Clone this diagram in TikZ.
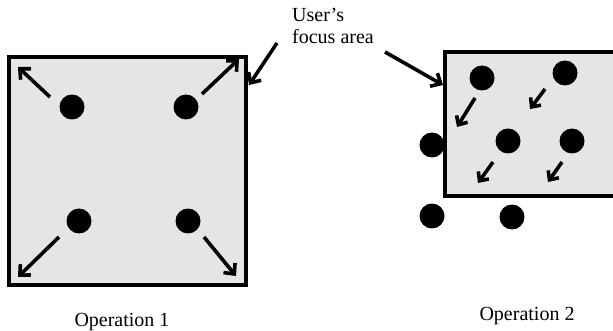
\documentclass[tikz,border=0pt]{standalone}
\usepackage{fontspec}
\setmainfont{Liberation Serif}
\usetikzlibrary{arrows.meta}
\begin{document}
\begin{tikzpicture}[x=1pt,y=-1pt,
  dot/.style={circle,fill=black,inner sep=0pt,minimum size=25pt},
  arr/.style={line width=3.6pt,-{Straight Barb[length=8pt,width=15pt,line width=3.6pt]}},
  sarr/.style={line width=3.6pt,-{Straight Barb[length=7pt,width=13pt,line width=3.6pt]}},
  box/.style={line width=3.8pt,draw=black,fill=black!10},
  lbl/.style={font=\fontsize{20}{22}\selectfont,inner sep=0pt}]
\useasboundingbox (0,0) rectangle (613,331);
% left box
\node[box,rectangle,minimum width=237pt,minimum height=228pt,inner sep=0pt] (lbox) at (127.5,171) {};
% right box (cut by the picture edge)
\fill[black!10] (445,52) rectangle (613,196);
\draw[line width=3.8pt] (614,52) -- (445,52) -- (445,196) -- (614,196);
\coordinate (rboxl) at (443,85);
% dots left
\node[dot] (d1) at (72,107) {};
\node[dot] (d2) at (186,107) {};
\node[dot] (d3) at (79,221) {};
\node[dot] (d4) at (188,221) {};
% arrows left
\coordinate (s1) at (50,97);   \coordinate (e1) at (18,67);
\coordinate (s2) at (202,94);  \coordinate (e2) at (239,59);
\coordinate (s3) at (59,237);  \coordinate (e3) at (18,277);
\coordinate (s4) at (204,237); \coordinate (e4) at (236,276);
\draw[arr] (s1) -- (e1);
\draw[arr] (s2) -- (e2);
\draw[arr] (s3) -- (e3);
\draw[arr] (s4) -- (e4);
% dots right
\node[dot] (r1) at (482,78) {};
\node[dot] (r2) at (565,73) {};
\node[dot] (r3) at (432,145) {};
\node[dot] (r4) at (508,141) {};
\node[dot] (r5) at (572,141) {};
\node[dot] (r6) at (432,216) {};
\node[dot] (r7) at (512,217) {};
% small arrows right
\coordinate (t1) at (475,98);  \coordinate (u1) at (457,127);
\coordinate (t2) at (545,89);  \coordinate (u2) at (530,109);
\coordinate (t3) at (493,162); \coordinate (u3) at (478,183);
\coordinate (t4) at (562,162); \coordinate (u4) at (548,182);
\draw[sarr] (t1) -- (u1);
\draw[sarr] (t2) -- (u2);
\draw[sarr] (t3) -- (u3);
\draw[sarr] (t4) -- (u4);
% label
\node[lbl,align=left,anchor=north west] (focus) at (292,8) {User's\\focus area};
\coordinate (f1) at (277,43);
\coordinate (f2) at (385,52);
\coordinate (lboxr) at (249,85);
\draw[arr] (f1) -- (lboxr);
\draw[arr] (f2) -- (rboxl);
% captions
\node[lbl] (op1) at (122,322) {Operation 1};
\node[lbl] (op2) at (527,316) {Operation 2};
\end{tikzpicture}
\end{document}
